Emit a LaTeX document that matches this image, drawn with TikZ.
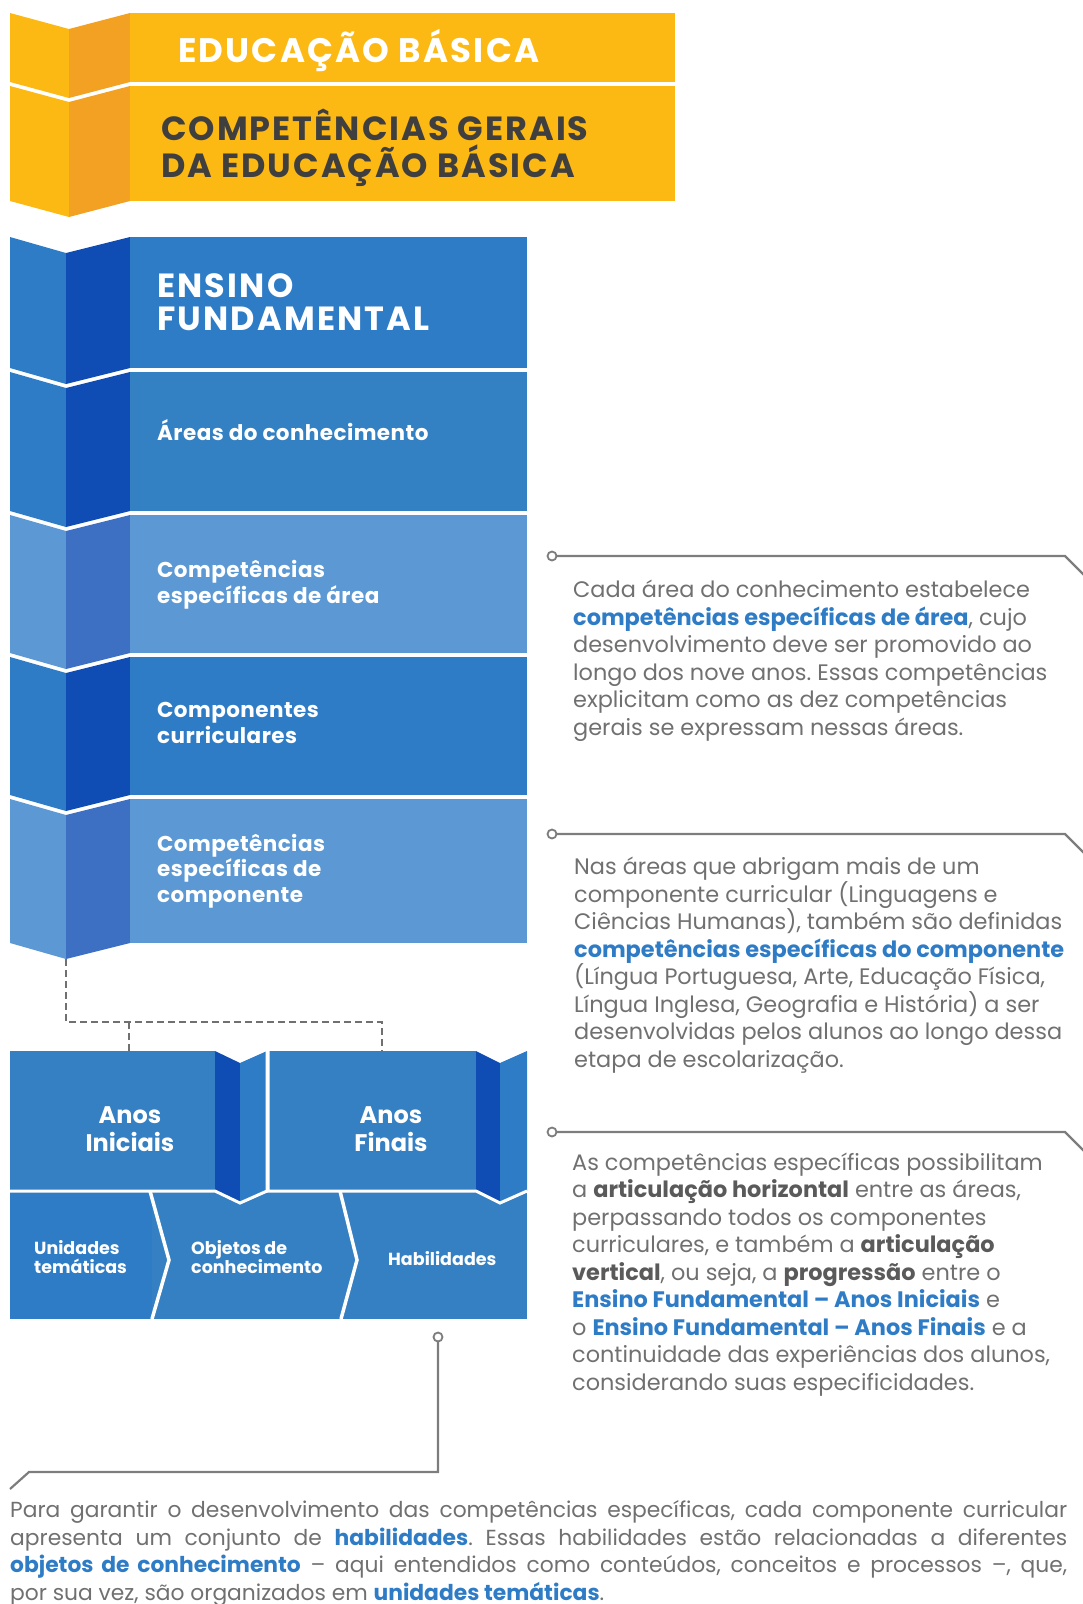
\documentclass[tikz,border=0pt]{standalone}
\usepackage{fontspec}
\setmainfont{Poppins}
\usetikzlibrary{positioning}
\frenchspacing

\definecolor{yelmain}{HTML}{FDB913}
\definecolor{yeldark}{HTML}{F3A122}
\definecolor{bluemid}{HTML}{2F7CC6}
\definecolor{bluearea}{HTML}{3380C2}
\definecolor{bluedark}{HTML}{0F4CB3}
\definecolor{bluelight}{HTML}{5B98D4}
\definecolor{bluelightdark}{HTML}{3D70C3}
\definecolor{anosblue}{HTML}{3580C2}
\definecolor{txtgray}{HTML}{707070}
\definecolor{headgray}{HTML}{3F3F3F}
\definecolor{keyblue}{HTML}{2F7CC6}
\definecolor{keygray}{HTML}{5A5A5A}
\definecolor{linegray}{HTML}{7D7D7D}
\definecolor{dashgray}{HTML}{707070}

\newcommand{\kwblue}[1]{{\bfseries\color{keyblue}#1}}
\newcommand{\kwgray}[1]{{\bfseries\color{keygray}#1}}

\begin{document}
\begin{tikzpicture}[x=1pt, y=-1pt,
  boxrect/.style={rectangle, inner sep=0pt, outer sep=0pt, anchor=north west},
  headtxt/.style={inner sep=0pt, anchor=base west, align=left, text=white,
    font=\bfseries\fontsize{33.5}{33}\selectfont\addfontfeature{LetterSpace=6.5}},
  boxtxt/.style={inner sep=0pt, anchor=base west, align=left, text=white,
    font=\bfseries\fontsize{21.5}{25.5}\selectfont\addfontfeature{LetterSpace=2}},
  anostxt/.style={inner sep=0pt, anchor=base, align=center, text=white,
    font=\bfseries\fontsize{24}{28}\selectfont},
  celltxt/.style={inner sep=0pt, anchor=base west, align=left, text=white,
    font=\bfseries\fontsize{17.5}{19}\selectfont},
  notetxt/.style={inner sep=0pt, anchor=base west, align=left, text=txtgray,
    font=\fontsize{22.4}{27.5}\selectfont},
  noteline/.style={draw=linegray, line width=2.2pt},
  pinmark/.style={circle, draw=linegray, fill=white, line width=1.8pt,
    minimum size=9pt, inner sep=0pt},
  dashconn/.style={draw=dashgray, line width=1.5pt, dash pattern=on 7pt off 4pt}
]
\useasboundingbox (0,0) rectangle (1082,1604);

% Educacao basica (yellow band)
\fill[yelmain] (10,13) -- (69,29) -- (69,98) -- (10,82) -- cycle;
\fill[yeldark] (69,29) -- (130,13) -- (130,82) -- (69,98) -- cycle;
\node[boxrect, fill=yelmain, minimum width=545pt, minimum height=69pt] (edu) at (130,13) {};
\fill[yelmain] (10,86) -- (69,102) -- (69,217) -- (10,201) -- cycle;
\fill[yeldark] (69,102) -- (130,86) -- (130,201) -- (69,217) -- cycle;
\node[boxrect, fill=yelmain, minimum width=545pt, minimum height=115pt] (cg) at (130,86) {};

\node[headtxt, font=\bfseries\fontsize{34}{34}\selectfont\addfontfeature{LetterSpace=6.5}]
  (edutxt) at (178,62) {EDUCAÇÃO BÁSICA};
\node[headtxt, text=headgray, font=\bfseries\fontsize{33.5}{36.5}\selectfont\addfontfeature{LetterSpace=6}]
  (cgtxt) at (161,177) {COMPETÊNCIAS GERAIS\\DA EDUCAÇÃO BÁSICA};

% Ensino fundamental (blue stack)
\fill[bluemid] (10,237) -- (66,253) -- (66,384) -- (10,368) -- cycle;
\fill[bluedark] (66,253) -- (130,237) -- (130,368) -- (66,384) -- cycle;
\node[boxrect, fill=bluemid, minimum width=397pt, minimum height=131pt] (ef) at (130,237) {};

\fill[bluemid] (10,372) -- (66,388) -- (66,527) -- (10,511) -- cycle;
\fill[bluedark] (66,388) -- (130,372) -- (130,511) -- (66,527) -- cycle;
\node[boxrect, fill=bluearea, minimum width=397pt, minimum height=139pt] (areas) at (130,372) {};

\fill[bluelight] (10,515) -- (66,531) -- (66,669) -- (10,653) -- cycle;
\fill[bluelightdark] (66,531) -- (130,515) -- (130,653) -- (66,669) -- cycle;
\node[boxrect, fill=bluelight, minimum width=397pt, minimum height=138pt] (cea) at (130,515) {};

\fill[bluemid] (10,657) -- (66,673) -- (66,811) -- (10,795) -- cycle;
\fill[bluedark] (66,673) -- (130,657) -- (130,795) -- (66,811) -- cycle;
\node[boxrect, fill=bluemid, minimum width=397pt, minimum height=138pt] (ccur) at (130,657) {};

\fill[bluelight] (10,799) -- (66,815) -- (66,959) -- (10,943) -- cycle;
\fill[bluelightdark] (66,815) -- (130,799) -- (130,943) -- (66,959) -- cycle;
\node[boxrect, fill=bluelight, minimum width=397pt, minimum height=144pt] (cec) at (130,799) {};

\node[headtxt] (eftxt) at (157,330) {ENSINO\\FUNDAMENTAL};
\node[boxtxt] (areastxt) at (157,440) {Áreas do conhecimento};
\node[boxtxt] (ceatxt) at (157,603) {Competências\\específicas de área};
\node[boxtxt] (ccurtxt) at (157,743) {Componentes\\curriculares};
\node[boxtxt] (cectxt) at (157,902) {Competências\\específicas de\\componente};

% Anos iniciais / finais
\fill[bluemid] (10,1191) rectangle (152,1319);
\fill[anosblue] (152,1191) rectangle (527,1319);

\fill[anosblue] (10,1051) rectangle (215,1191);
\fill[bluedark] (215,1051) -- (240,1063) -- (240,1203) -- (215,1191) -- cycle;
\fill[bluemid] (240,1063) -- (267,1051) -- (267,1191) -- (240,1203) -- cycle;
\draw[white, line width=3pt] (10,1191) -- (215,1191) -- (240,1203) -- (267,1191) -- (267,1051);

\fill[anosblue] (268,1051) rectangle (476,1191);
\fill[bluedark] (476,1051) -- (500,1063) -- (500,1203) -- (476,1191) -- cycle;
\fill[bluemid] (500,1063) -- (527,1051) -- (527,1191) -- (500,1203) -- cycle;
\draw[white, line width=3pt] (268,1051) -- (268,1191) -- (476,1191) -- (500,1203) -- (527,1191);

\draw[white, line width=3.5pt] (150,1191) -- (169,1260) -- (152,1319);
\draw[white, line width=3.5pt] (340,1191) -- (357,1260) -- (341,1319);

\node[anostxt] (ai) at (130,1151) {Anos\\Iniciais};
\node[anostxt] (af) at (391,1151) {Anos\\Finais};
\node[celltxt] (ut) at (34,1273) {Unidades\\temáticas};
\node[celltxt] (oc) at (191,1273) {Objetos de\\conhecimento};
\node[celltxt] (hab) at (388,1265) {Habilidades};

% Dashed links
\coordinate (cectip) at (66,959);
\coordinate (dashrow) at (0,1022);
\coordinate (aitop) at (129,1051);
\coordinate (aftop) at (382,1051);
\draw[dashconn] (cectip) |- (aftop |- dashrow) -- (aftop);
\draw[dashconn] (aitop |- dashrow) -- (aitop);

% Notes
\coordinate (p1) at (552,556);
\coordinate (p2) at (552,834);
\coordinate (p3) at (552,1132);
\coordinate (p4) at (438,1337);
\draw[noteline] (p1) -- ++(513,0) -- ++(20,20);
\draw[noteline] (p2) -- ++(513,0) -- ++(20,20);
\draw[noteline] (p3) -- ++(513,0) -- ++(20,20);
\draw[noteline] (p4) -- ++(0,135) -- ++(-409,0) -- ++(-19,17);
\node[pinmark] (pm1) at (p1) {};
\node[pinmark] (pm2) at (p2) {};
\node[pinmark] (pm3) at (p3) {};
\node[pinmark] (pm4) at (p4) {};

\node[notetxt] (n1) at (573,735) {Cada área do conhecimento estabelece\\
  \kwblue{competências específicas de área}, cujo\\
  desenvolvimento deve ser promovido ao\\
  longo dos nove anos. Essas competências\\
  explicitam como as dez competências\\
  gerais se expressam nessas áreas.};

\node[notetxt] (n2) at (574,1067) {Nas áreas que abrigam mais de um\\
  componente curricular (Linguagens e\\
  Ciências Humanas), também são definidas\\
  \kwblue{competências específicas do componente}\\
  (Língua Portuguesa, Arte, Educação Física,\\
  Língua Inglesa, Geografia e História) a ser\\
  desenvolvidas pelos alunos ao longo dessa\\
  etapa de escolarização.};

\node[notetxt] (n3) at (572,1390) {As competências específicas possibilitam\\
  a \kwgray{articulação horizontal} entre as áreas,\\
  perpassando todos os componentes\\
  curriculares, e também a \kwgray{articulação}\\
  \kwgray{vertical}, ou seja, a \kwgray{progressão} entre o\\
  \kwblue{Ensino Fundamental – Anos Iniciais} e\\
  o \kwblue{Ensino Fundamental – Anos Finais} e a\\
  continuidade das experiências dos alunos,\\
  considerando suas especificidades.};

\node[notetxt, font=\fontsize{21.8}{27.5}\selectfont] (n4) at (10,1600)
  {\hbox to 1057pt{Para garantir o desenvolvimento das competências específicas, cada componente curricular}\\
  \hbox to 1057pt{apresenta um conjunto de \kwblue{habilidades}. Essas habilidades estão relacionadas a diferentes}\\
  \hbox to 1057pt{\kwblue{objetos de conhecimento} – aqui entendidos como conteúdos, conceitos e processos –, que,}\\
  por sua vez, são organizados em \kwblue{unidades temáticas}.};

\end{tikzpicture}
\end{document}
